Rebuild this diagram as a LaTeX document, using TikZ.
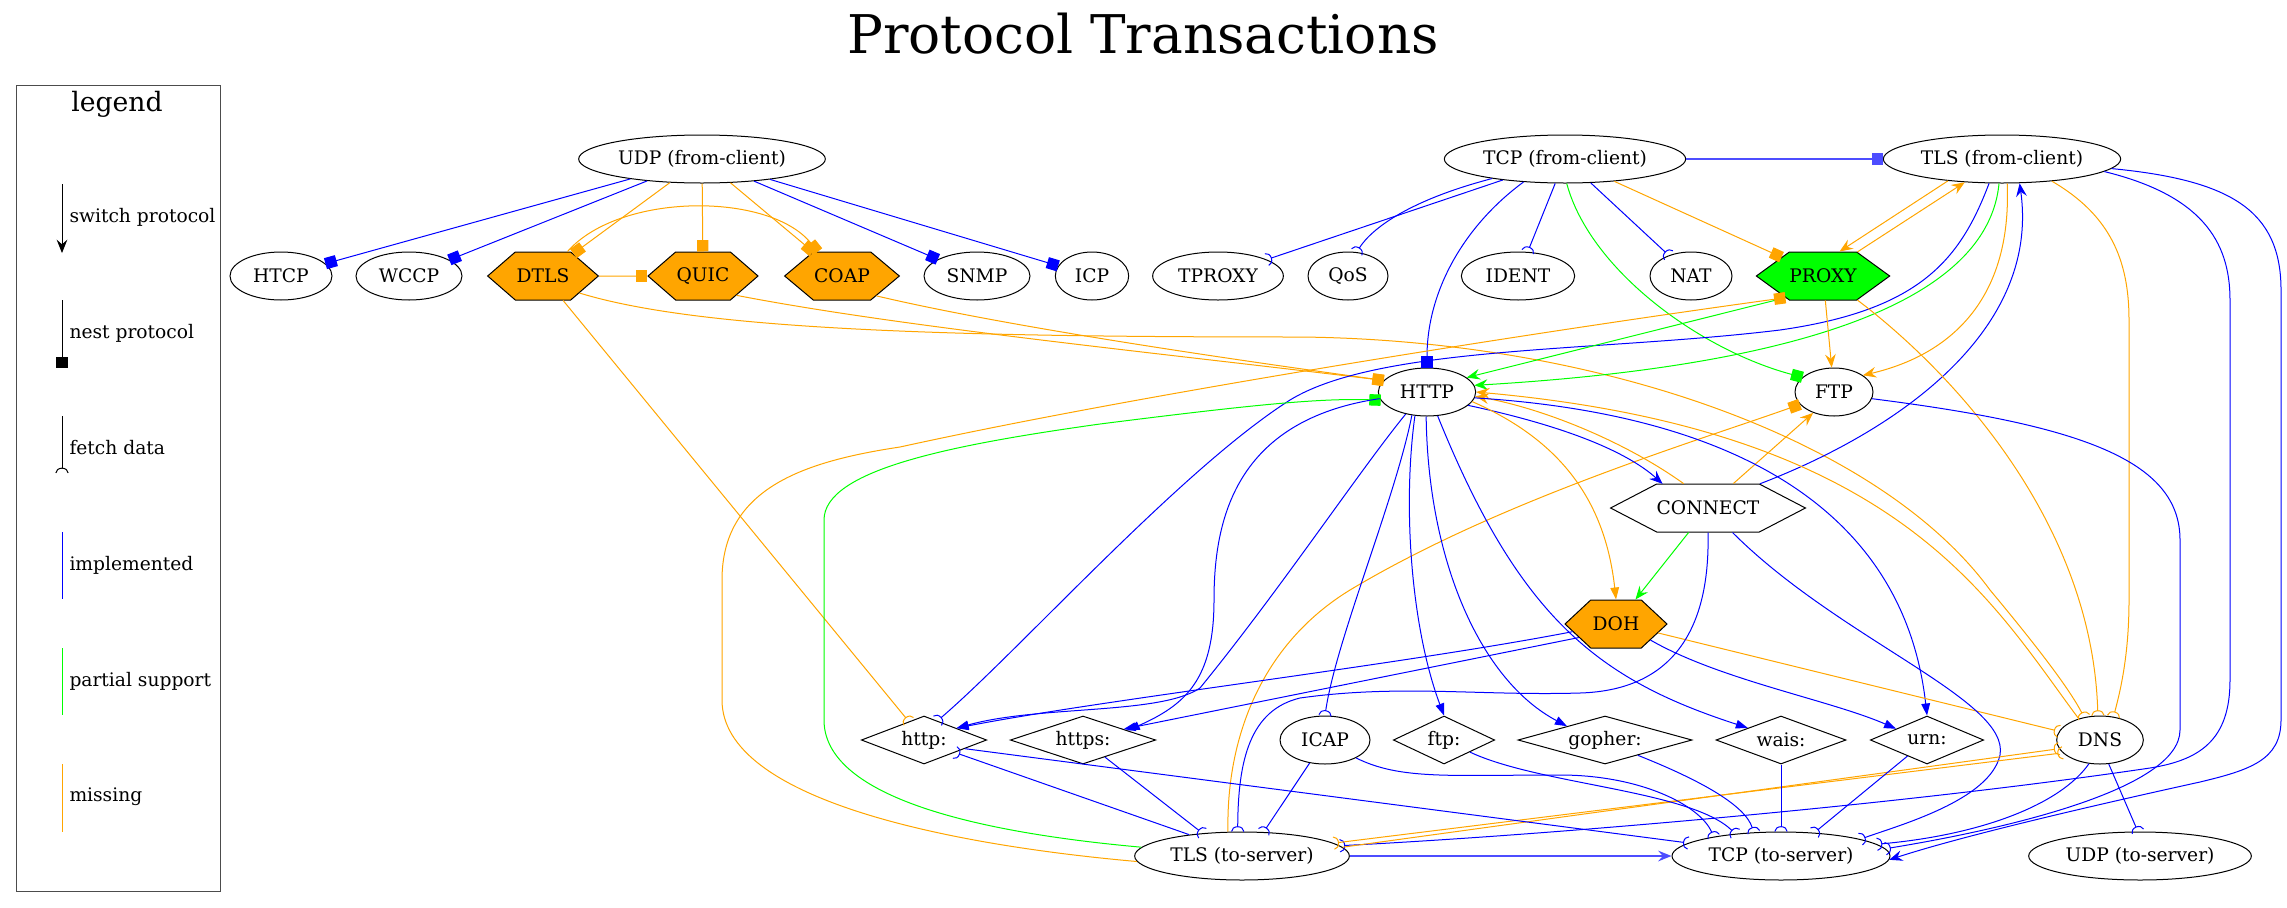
\documentclass[tikz,border=0pt]{standalone}
\usepackage{fontspec}
\setmainfont{DejaVu Serif}
\usetikzlibrary{arrows.meta,shapes.geometric,shapes.symbols}

\definecolor{implblue}{RGB}{0,0,255}
\definecolor{partgreen}{RGB}{0,255,0}
\definecolor{missorange}{RGB}{255,165,0}
\definecolor{tunnelblue}{RGB}{77,77,255}

\tikzset{every picture/.style={line width=0.75pt}}
\tikzset{
  nodefont/.style={font=\fontsize{14}{16}\selectfont},
  proto/.style={ellipse,draw,inner sep=0pt,minimum height=36pt,nodefont},
  hexa/.style={signal,signal to=east and west,draw,inner sep=0pt,minimum height=36pt,nodefont},
  uri/.style={diamond,aspect=3,draw,inner sep=0pt,minimum height=36pt,nodefont},
  legtext/.style={anchor=west,inner sep=0pt,nodefont},
  impl/.style={color=implblue},
  part/.style={color=partgreen},
  miss/.style={color=missorange},
  tunnel/.style={color=tunnelblue,line width=1.5pt},
  tipvee/.style={-{Stealth[length=10pt,width=8pt,inset=3.5pt]}},
  tipnorm/.style={-{Triangle[length=9pt,width=6.5pt]}},
  tipbox/.style={-{Square[length=8.5pt,width=8.5pt]}},
  tipcurve/.style={-{Arc Barb[reversed,length=4pt,width=10pt]}},
  tipboth/.style={{Arc Barb[reversed,length=4pt,width=10pt]}-{Arc Barb[reversed,length=4pt,width=10pt]}}
}

\begin{document}
\begin{tikzpicture}[x=0.75pt,y=0.75pt,yscale=-1,xscale=1]
\useasboundingbox (0,0) rectangle (2287,907);

% title
\node (title) at (1143,34) {\fontsize{40}{48}\selectfont Protocol Transactions};

% legend
\draw[black!70] (16,85) rectangle (220,891);
\node (leghead) at (117,104) {\fontsize{20}{24}\selectfont legend};
\coordinate (lgswA) at (62,184); \coordinate (lgswB) at (62,253);
\coordinate (lgneA) at (62,300); \coordinate (lgneB) at (62,368);
\coordinate (lgfeA) at (62,416); \coordinate (lgfeB) at (62,473);
\coordinate (lgimA) at (62,532); \coordinate (lgimB) at (62,599);
\coordinate (lgpaA) at (62,648); \coordinate (lgpaB) at (62,715);
\coordinate (lgmiA) at (62,764); \coordinate (lgmiB) at (62,832);
\draw[tipvee] (lgswA) -- (lgswB);
\draw[tipbox] (lgneA) -- (lgneB);
\draw[tipcurve] (lgfeA) -- (lgfeB);
\draw[impl] (lgimA) -- (lgimB);
\draw[part] (lgpaA) -- (lgpaB);
\draw[miss] (lgmiA) -- (lgmiB);
\node[legtext] (lgsw) at (69,217) {switch protocol};
\node[legtext] (lgne) at (69,333) {nest protocol};
\node[legtext] (lgfe) at (69,448) {fetch data};
\node[legtext] (lgim) at (69,565) {implemented};
\node[legtext] (lgpa) at (69,681) {partial support};
\node[legtext] (lgmi) at (69,797) {missing};

% client side
\node[proto,minimum width=185pt] (udpfc) at (702,159) {UDP (from-client)};
\node[proto,minimum width=181pt] (tcpfc) at (1565,159) {TCP (from-client)};
\node[proto,minimum width=178pt] (tlsfc) at (2002,159) {TLS (from-client)};

% second row
\node[proto,minimum width=76.5pt] (htcp) at (281,276) {HTCP};
\node[proto,minimum width=79.5pt] (wccp) at (409,276) {WCCP};
\node[hexa,fill=missorange,minimum width=83pt,signal pointer angle=82] (dtls) at (543,276) {DTLS};
\node[hexa,fill=missorange,minimum width=82.5pt,signal pointer angle=82] (quic) at (703,276) {QUIC};
\node[hexa,fill=missorange,minimum width=86pt,signal pointer angle=80] (coap) at (842,276) {COAP};
\node[proto,minimum width=79.5pt] (snmp) at (977,276) {SNMP};
\node[proto,minimum width=55pt] (icp) at (1092,276) {ICP};
\node[proto,minimum width=98pt] (tproxy) at (1218,276) {TPROXY};
\node[proto,minimum width=60pt] (qos) at (1348,276) {QoS};
\node[proto,minimum width=85pt] (ident) at (1518,276) {IDENT};
\node[proto,minimum width=61.5pt] (nat) at (1691,276) {NAT};
\node[hexa,fill=partgreen,minimum width=100pt,signal pointer angle=72] (proxy) at (1823,276) {PROXY};

% middle
\node[proto,minimum width=73pt] (http) at (1427,392) {HTTP};
\node[proto,minimum width=58.5pt] (ftp) at (1834,392) {FTP};
\node[hexa,minimum width=138pt,signal pointer angle=55] (connect) at (1708,508) {CONNECT};
\node[hexa,fill=missorange,minimum width=76.5pt,signal pointer angle=86] (doh) at (1616,624) {DOH};

% uri row
\node[uri,minimum width=94pt] (httpuri) at (924,740) {http:};
\node[uri,minimum width=109pt] (httpsuri) at (1083,740) {https:};
\node[proto,minimum width=67.5pt] (icap) at (1325,740) {ICAP};
\node[uri,minimum width=76pt] (ftpuri) at (1444,740) {ftp:};
\node[uri,minimum width=130.5pt] (gopheruri) at (1605,740) {gopher:};
\node[uri,minimum width=97.5pt] (waisuri) at (1781,740) {wais:};
\node[uri,minimum width=85pt] (urnuri) at (1927,740) {urn:};
\node[proto,minimum width=65pt] (dns) at (2100,740) {DNS};

% server side
\node[proto,minimum width=161pt] (tlsts) at (1242,856) {TLS (to-server)};
\node[proto,minimum width=163.5pt] (tcpts) at (1781,856) {TCP (to-server)};
\node[proto,minimum width=167pt] (udpts) at (2140,856) {UDP (to-server)};

% UDP (from-client)
\draw[impl,tipbox] (udpfc) -- (htcp);
\draw[impl,tipbox] (udpfc) -- (wccp);
\draw[miss,tipbox] (udpfc) -- (dtls);
\draw[miss,tipbox] (udpfc) -- (quic);
\draw[miss,tipbox] (udpfc) -- (coap);
\draw[impl,tipbox] (udpfc) -- (snmp);
\draw[impl,tipbox] (udpfc) -- (icp);

% DTLS, QUIC, COAP
\draw[miss,tipbox] (dtls.45) .. controls (620,192) and (770,192) .. (coap.135);
\draw[miss,tipbox] (dtls) -- (quic);
\draw[miss,tipcurve] (dtls) -- (httpuri);
\draw[miss,tipcurve] (dtls.-25) .. controls (700,330) and (950,337) .. (1300,337) .. controls (1600,340) and (1880,440) .. (1990,590) .. controls (2040,650) and (2070,690) .. (dns.125);
\draw[miss,tipbox] (quic.-30) .. controls (900,327) and (1150,352) .. (http.165);
\draw[miss,tipbox] (coap.-30) .. controls (1000,325) and (1200,355) .. (http.165);

% TCP (from-client)
\draw[tunnel,tipbox] (tcpfc) -- (tlsfc);
\draw[impl,tipcurve] (tcpfc) -- (tproxy);
\draw[impl,tipcurve] (tcpfc.-165) .. controls (1410,200) and (1372,228) .. (qos.70);
\draw[impl,tipcurve] (tcpfc) -- (ident);
\draw[impl,tipcurve] (tcpfc) -- (nat);
\draw[miss,tipbox] (tcpfc) -- (proxy);
\draw[impl,tipbox] (tcpfc.-151) .. controls (1465,225) and (1427,290) .. (http.north);
\draw[part,tipbox] (tcpfc.-86) .. controls (1590,270) and (1700,350) .. (ftp.155);

% TLS (from-client)
\draw[miss,tipvee] (proxy.35) -- (tlsfc.-148);
\draw[miss,tipvee] (tlsfc.-158) -- (proxy.56);
\draw[impl,tipcurve] (tlsfc.-118) .. controls (1960,260) and (1920,310) .. (1780,330) .. controls (1600,352) and (1380,345) .. (1290,400) .. controls (1180,470) and (1020,650) .. (httpuri.55);
\draw[part,tipvee] (tlsfc.-97) .. controls (1985,330) and (1700,372) .. (http.8);
\draw[miss,tipvee] (tlsfc.-78) .. controls (2012,300) and (1950,355) .. (ftp.30);
\draw[impl,tipvee] (connect.25) .. controls (1900,430) and (2040,330) .. (tlsfc.-54);
\draw[miss,tipcurve] (tlsfc.-24) .. controls (2110,215) and (2129,260) .. (2129,320) -- (2129,600) .. controls (2129,650) and (2122,685) .. (dns.60);
\draw[impl,tipcurve] (tlsfc.-7) .. controls (2200,195) and (2230,240) .. (2230,300) -- (2230,680) .. controls (2230,740) and (2200,760) .. (2150,768) .. controls (1900,805) and (1550,835) .. (tlsts.6);
\draw[impl,tipvee] (tlsfc.-5) .. controls (2230,180) and (2281,210) .. (2281,290) -- (2281,720) .. controls (2281,760) and (2250,770) .. (2200,782) .. controls (2050,815) and (1950,840) .. (tcpts.-2);

% PROXY
\draw[miss,tipvee] (proxy) -- (ftp);
\draw[part,tipvee] (proxy.-150) -- (http.20);
\draw[miss,tipcurve] (proxy.-35) .. controls (1950,370) and (2092,520) .. (dns.95);
\draw[miss,tipbox] (tlsts.183) .. controls (950,845) and (722,800) .. (722,700) -- (722,580) .. controls (722,490) and (800,462) .. (900,447) .. controls (1150,392) and (1550,330) .. (proxy.-150);
\draw[part,tipbox] (tlsts.175) .. controls (950,830) and (824,790) .. (824,720) -- (824,520) .. controls (824,470) and (950,445) .. (1100,424) .. controls (1250,405) and (1320,398) .. (http.190);
\draw[miss,tipbox] (tlsts.120) .. controls (1226,740) and (1260,645) .. (1350,590) .. controls (1500,500) and (1700,440) .. (ftp.200);

% HTTP
\draw[impl,tipvee] (http.-18) .. controls (1560,425) and (1625,450) .. (connect.152);
\draw[miss,tipvee] (connect.135) .. controls (1630,445) and (1550,410) .. (http.-5);
\draw[miss,tipnorm] (http.-12) .. controls (1560,440) and (1605,500) .. (doh.north);
\draw[part,tipvee] (connect) -- (doh);
\draw[miss,tipvee] (connect.44) -- (ftp.-135);
\draw[miss,tipvee] (dns.135) .. controls (1990,600) and (1900,430) .. (http.0);
\draw[impl,tipnorm] (http.-134) .. controls (1360,470) and (1280,590) .. (1200,688) .. controls (1160,715) and (1040,705) .. (httpuri.20);
\draw[impl,tipnorm] (http.188) .. controls (1235,420) and (1214,520) .. (1214,600) .. controls (1214,680) and (1185,705) .. (httpsuri.12);
\draw[impl,tipcurve] (http.-123) .. controls (1395,500) and (1336,640) .. (icap.north);
\draw[impl,tipnorm] (http.-117) .. controls (1402,510) and (1412,630) .. (ftpuri.north);
\draw[impl,tipnorm] (http.-92) .. controls (1428,560) and (1480,680) .. (gopheruri.160);
\draw[impl,tipnorm] (http.-66) .. controls (1520,620) and (1600,680) .. (waisuri.160);
\draw[impl,tipnorm] (http.-7) .. controls (1750,415) and (1905,520) .. (urnuri.north);

% DOH
\draw[impl,tipnorm] (doh.190) .. controls (1400,665) and (1100,700) .. (httpuri.20);
\draw[impl,tipnorm] (doh.200) -- (httpsuri.15);
\draw[impl,tipnorm] (doh.-25) .. controls (1720,680) and (1830,700) .. (urnuri.160);
\draw[miss,tipcurve] (doh.-12) -- (dns.168);

% CONNECT
\draw[impl,tipcurve] (connect.-90) .. controls (1710,620) and (1680,690) .. (1580,693) .. controls (1480,696) and (1400,684) .. (1300,698) .. controls (1250,710) and (1238,760) .. (tlsts.100);
\draw[impl,tipcurve] (connect.-45) .. controls (1840,640) and (2010,700) .. (2000,755) .. controls (1990,800) and (1900,825) .. (tcpts.12);

% FTP, DNS
\draw[impl,tipcurve] (ftp.-10) .. controls (2080,425) and (2180,460) .. (2180,540) -- (2180,730) .. controls (2180,790) and (2000,830) .. (tcpts.4);
\draw[impl,tipcurve] (dns.-115) .. controls (2060,805) and (1980,835) .. (tcpts.7);
\draw[impl,tipcurve] (dns.-70) -- (udpts.95);
\draw[miss,tipcurve] (tlsts.5) -- (dns.192);
\draw[miss,tipboth] (tlsts.8) -- (dns.199);

% URIs to servers
\draw[impl,tipcurve] (urnuri) -- (tcpts.35);
\draw[impl,tipcurve] (waisuri) -- (tcpts);
\draw[impl,tipcurve] (gopheruri.-25) .. controls (1700,780) and (1745,805) .. (tcpts.139);
\draw[impl,tipcurve] (ftpuri.-25) .. controls (1540,785) and (1690,790) .. (tcpts.154);
\draw[impl,tipcurve] (icap.-30) .. controls (1400,780) and (1450,775) .. (1560,775) .. controls (1640,775) and (1700,805) .. (tcpts.164);
\draw[impl,tipcurve] (httpuri.-12) -- (tcpts.172);
\draw[impl,tipcurve] (httpsuri) -- (tlsts.150);
\draw[impl,tipcurve] (tlsts.158) -- (httpuri.-22);
\draw[impl,tipcurve] (icap) -- (tlsts.48);
\draw[tunnel,tipvee] (tlsts) -- (tcpts);

\end{tikzpicture}
\end{document}
